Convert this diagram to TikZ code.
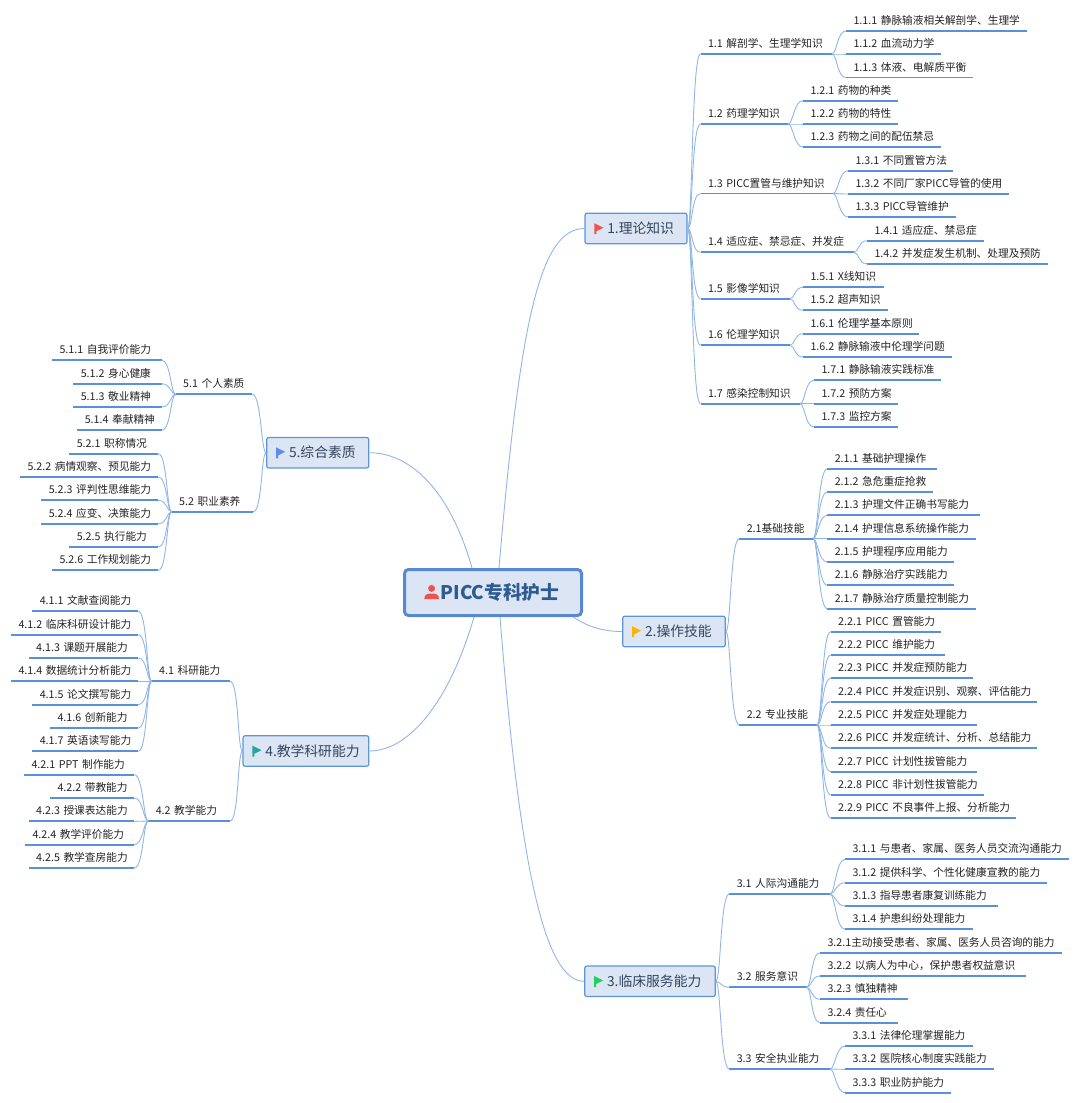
\documentclass[tikz,border=0pt]{standalone}
\usepackage{fontspec}
\setmainfont{Noto Sans CJK SC}
\definecolor{linkblue}{HTML}{8FB6E8}
\definecolor{ruleblue}{HTML}{5A90DA}
\definecolor{boxfill}{HTML}{DBE5F3}
\definecolor{boxedge}{HTML}{5C95DC}
\definecolor{rootedge}{HTML}{5888D0}
\definecolor{roottext}{HTML}{2F5B93}
\definecolor{bodytext}{HTML}{222222}
\definecolor{boxtext}{HTML}{34465F}
\definecolor{flagred}{HTML}{EF5350}
\definecolor{flagorange}{HTML}{FFB300}
\definecolor{flaggreen}{HTML}{1FCF5F}
\definecolor{flagteal}{HTML}{26A69A}
\definecolor{flagblue}{HTML}{5B8DEF}
\tikzset{
  item/.style = {anchor=south west, inner xsep=7.5pt, inner ysep=4.4pt, outer sep=0pt, text height=8.5pt, text depth=2pt,
    text=bodytext, font=\fontsize{10.7}{12}\selectfont},
  uline/.style = {ruleblue, line width=1.9pt},
  link/.style = {linkblue, line width=.9pt},
  fanr/.style = {to path={.. controls +(5,0) and +(-9,0) .. (\tikztotarget)}},
  fanl/.style = {to path={.. controls +(-5,0) and +(9,0) .. (\tikztotarget)}},
  subject/.style = {draw=boxedge, fill=boxfill, line width=1.2pt, rounded corners=2pt, inner sep=0pt, minimum height=30.5pt,
    text=boxtext, font=\fontsize{13.8}{16}\selectfont},
  flag/.pic = {\fill [#1] (0,0) -- (9,4.5) -- (2,8) -- (2,11) -- (0,11) -- cycle;}
}
\begin{document}
\begin{tikzpicture}[x=1pt, y=-1pt]
    \useasboundingbox (0,0) rectangle (1080,1103);

    \node [draw=rootedge, fill=boxfill, line width=3pt, rounded corners=4pt, inner sep=0pt, minimum width=177pt, minimum height=46pt,
      text=roottext, font=\fontsize{18.8}{22}\selectfont\bfseries] (root) at (493,592.5)
      {\hspace*{14pt}\raisebox{-.6pt}{PICC专科护士}};
    \fill [flagred] (431.6,588.4) circle (3.5);
    \fill [flagred] (424.3,599) .. controls (424.3,594) and (428,593.5) .. (431.6,593.5) .. controls (435.2,593.5) and (439,594) .. (439,599) -- cycle;

    % main branches
    \node [subject, minimum width=102pt] (b1) at (636,228.5) {\hspace*{22.3pt}\makebox[79.7pt][l]{\raisebox{-.8pt}{1.理论知识}}};
    \node [subject, minimum width=102.5pt] (b2) at (674,631.5) {\hspace*{22.3pt}\makebox[80.2pt][l]{\raisebox{-.8pt}{2.操作技能}}};
    \node [subject, minimum width=130.5pt] (b3) at (650,981.3) {\hspace*{22.3pt}\makebox[108.2pt][l]{\raisebox{-.8pt}{3.临床服务能力}}};
    \node [subject, minimum width=125.7pt] (b4) at (305.9,751) {\hspace*{22.3pt}\makebox[103.4pt][l]{\raisebox{-.8pt}{4.教学科研能力}}};
    \node [subject, minimum width=102pt] (b5) at (317.7,452.7) {\hspace*{22.3pt}\makebox[79.7pt][l]{\raisebox{-.8pt}{5.综合素质}}};

    \pic at ([shift={(10,-5.3)}]b1.west) {flag=flagred};
    \pic at ([shift={(10,-5.3)}]b2.west) {flag=flagorange};
    \pic at ([shift={(10,-5.3)}]b3.west) {flag=flaggreen};
    \pic at ([shift={(10,-5.3)}]b4.west) {flag=flagteal};
    \pic at ([shift={(10,-5.3)}]b5.west) {flag=flagblue};

    \draw [link] ([xshift=6pt]root.north) .. controls (520,320) and (540,228.5) .. (b1.west);
    \draw [link] ([xshift=80pt]root.south) .. controls (590,628) and (605,631.5) .. (b2.west);
    \draw [link] ([xshift=7pt]root.south) .. controls (520,870) and (545,981.3) .. (b3.west);
    \draw [link] (b4.east) .. controls (410,751) and (450,700) .. ([xshift=-19pt]root.south);
    \draw [link] (b5.east) .. controls (410,452.7) and (450,490) .. ([xshift=-21pt]root.north);

    % second level, to the right
    \foreach \n/\p/\xa/\xb/\y/\txt in {
      n11/b1/700.5/832/54/1.1 解剖学、生理学知识,
      n12/b1/700.5/788/124/1.2 药理学知识,
      n13/b1/700.5/833/193.5/1.3 PICC置管与维护知识,
      n14/b1/700.5/854/252.3/1.4 适应症、禁忌症、并发症,
      n15/b1/700.5/790/298.7/1.5 影像学知识,
      n16/b1/700.5/790/345.3/1.6 伦理学知识,
      n17/b1/700.5/800/403.7/1.7 感染控制知识,
      n21/b2/739.3/813/538.7/2.1基础技能,
      n22/b2/739.3/817/725/2.2 专业技能,
      n31/b3/729.3/830/894/3.1 人际沟通能力,
      n32/b3/729.3/806.7/987.3/3.2 服务意识,
      n33/b3/729.3/830/1069/3.3 安全执业能力} {
      \node [item, text width={\xb pt-\xa pt-15pt}] (\n) at (\xa,\y) {\mbox{\txt}};
      \draw [uline] (\n.south west) -- (\n.south east);
      \draw [link] (\p.east) to [fanr] (\n.south west);
    }

    % leaves, to the right
    \foreach \n/\p/\xa/\xb/\y/\txt in {
      n111/n11/846/1027/31/1.1.1 静脉输液相关解剖学、生理学,
      n112/n11/846/941/54/1.1.2 血流动力学,
      n113/n11/846/973/77.5/1.1.3 体液、电解质平衡,
      n121/n12/803/898/100.7/1.2.1 药物的种类,
      n122/n12/803/898/124/1.2.2 药物的特性,
      n123/n12/803/941/147/1.2.3 药物之间的配伍禁忌,
      n131/n13/848/953/170.7/1.3.1 不同置管方法,
      n132/n13/848/1009/194/1.3.2 不同厂家PICC导管的使用,
      n133/n13/848/956/217/1.3.3 PICC导管维护,
      n141/n14/867/984/240.7/1.4.1 适应症、禁忌症,
      n142/n14/867/1048/263.7/1.4.2 并发症发生机制、处理及预防,
      n151/n15/803/884/287.3/1.5.1 X线知识,
      n152/n15/803/888/310.3/1.5.2 超声知识,
      n161/n16/803/919/333.7/1.6.1 伦理学基本原则,
      n162/n16/803/952/357/1.6.2 静脉输液中伦理学问题,
      n171/n17/814/941/380.3/1.7.1 静脉输液实践标准,
      n172/n17/814/898/403.7/1.7.2 预防方案,
      n173/n17/814/898/427/1.7.3 监控方案,
      n211/n21/827.3/936.7/468.7/2.1.1 基础护理操作,
      n212/n21/827.3/932.7/492/2.1.2 急危重症抢救,
      n213/n21/827.3/980/515.3/2.1.3 护理文件正确书写能力,
      n214/n21/827.3/975.7/538.7/2.1.4 护理信息系统操作能力,
      n215/n21/827.3/954.3/562/2.1.5 护理程序应用能力,
      n216/n21/827.3/954.3/585.3/2.1.6 静脉治疗实践能力,
      n217/n21/827.3/975.7/608.7/2.1.7 静脉治疗质量控制能力,
      n221/n22/830.7/941/631.7/2.2.1 PICC 置管能力,
      n222/n22/830.7/945/655/2.2.2 PICC 维护能力,
      n223/n22/830.7/973.3/678.3/2.2.3 PICC 并发症预防能力,
      n224/n22/830.7/1037.3/701.7/2.2.4 PICC 并发症识别、观察、评估能力,
      n225/n22/830.7/977/725/2.2.5 PICC 并发症处理能力,
      n226/n22/830.7/1037.3/748.3/2.2.6 PICC 并发症统计、分析、总结能力,
      n227/n22/830.7/977/771.7/2.2.7 PICC 计划性拔管能力,
      n228/n22/830.7/984/795/2.2.8 PICC 非计划性拔管能力,
      n229/n22/830.7/1016/818.3/2.2.9 PICC 不良事件上报、分析能力,
      n311/n31/845/1069/859.3/3.1.1 与患者、家属、医务人员交流沟通能力,
      n312/n31/845/1047.3/882.7/3.1.2 提供科学、个性化健康宣教的能力,
      n313/n31/845/997.7/906/3.1.3 指导患者康复训练能力,
      n314/n31/845/972.7/929.3/3.1.4 护患纠纷处理能力,
      n321/n32/820/1062/952.7/3.2.1主动接受患者、家属、医务人员咨询的能力,
      n322/n32/820/1026/976/3.2.2 以病人为中心，保护患者权益意识,
      n323/n32/820/908.3/999.3/3.2.3 慎独精神,
      n324/n32/820/897.7/1022.7/3.2.4 责任心,
      n331/n33/845/972.7/1046/3.3.1 法律伦理掌握能力,
      n332/n33/845/994/1069.3/3.3.2 医院核心制度实践能力,
      n333/n33/845/951/1092.7/3.3.3 职业防护能力} {
      \node [item, text width={\xb pt-\xa pt-15pt}] (\n) at (\xa,\y) {\mbox{\txt}};
      \draw [uline] (\n.south west) -- (\n.south east);
      \draw [link] (\p.south east) to [fanr] (\n.south west);
    }

    % second level, to the left
    \foreach \n/\p/\xa/\xb/\y/\txt in {
      n41/b4/151.7/230/681.3/4.1 科研能力,
      n42/b4/148.3/230/821/4.2 教学能力,
      n51/b5/175.7/252.3/394.3/5.1 个人素质,
      n52/b5/171.7/253.3/511.7/5.2 职业素养} {
      \node [item, text width={\xb pt-\xa pt-15pt}] (\n) at (\xa,\y) {\mbox{\txt}};
      \draw [uline] (\n.south west) -- (\n.south east);
      \draw [link] (\p.west) to [fanl] (\n.south east);
    }

    % leaves, to the left
    \foreach \n/\p/\xa/\xb/\y/\txt in {
      n411/n41/32.3/138.3/611.3/4.1.1 文献查阅能力,
      n412/n41/11/138.3/634.7/4.1.2 临床科研设计能力,
      n413/n41/28.7/138.3/658/4.1.3 课题开展能力,
      n414/n41/11/138.3/681.3/4.1.4 数据统计分析能力,
      n415/n41/32.3/138.3/704.7/4.1.5 论文撰写能力,
      n416/n41/50/138.3/728/4.1.6 创新能力,
      n417/n41/32.3/138.3/751.3/4.1.7 英语读写能力,
      n421/n42/24/134.3/774.7/4.2.1 PPT 制作能力,
      n422/n42/50/134.3/798/4.2.2 带教能力,
      n423/n42/28.7/134.3/821.3/4.2.3 授课表达能力,
      n424/n42/25/134.3/844.7/4.2.4 教学评价能力,
      n425/n42/28.7/134.3/868/4.2.5 教学查房能力,
      n511/n51/52/161.7/360.3/5.1.1 自我评价能力,
      n512/n51/73.3/161.7/383.7/5.1.2 身心健康,
      n513/n51/73.3/161.7/407/5.1.3 敬业精神,
      n514/n51/77.3/161.7/430.3/5.1.4 奉献精神,
      n521/n52/69.3/158.3/453.7/5.2.1 职称情况,
      n522/n52/20/158.3/477/5.2.2 病情观察、预见能力,
      n523/n52/41.3/158.3/500.3/5.2.3 评判性思维能力,
      n524/n52/41.3/158.3/523.7/5.2.4 应变、决策能力,
      n525/n52/69.3/158.3/547/5.2.5 执行能力,
      n526/n52/52/158.3/570.3/5.2.6 工作规划能力} {
      \node [item, text width={\xb pt-\xa pt-15pt}] (\n) at (\xa,\y) {\mbox{\txt}};
      \draw [uline] (\n.south west) -- (\n.south east);
      \draw [link] (\p.south west) to [fanl] (\n.south east);
    }
\end{tikzpicture}
\end{document}
